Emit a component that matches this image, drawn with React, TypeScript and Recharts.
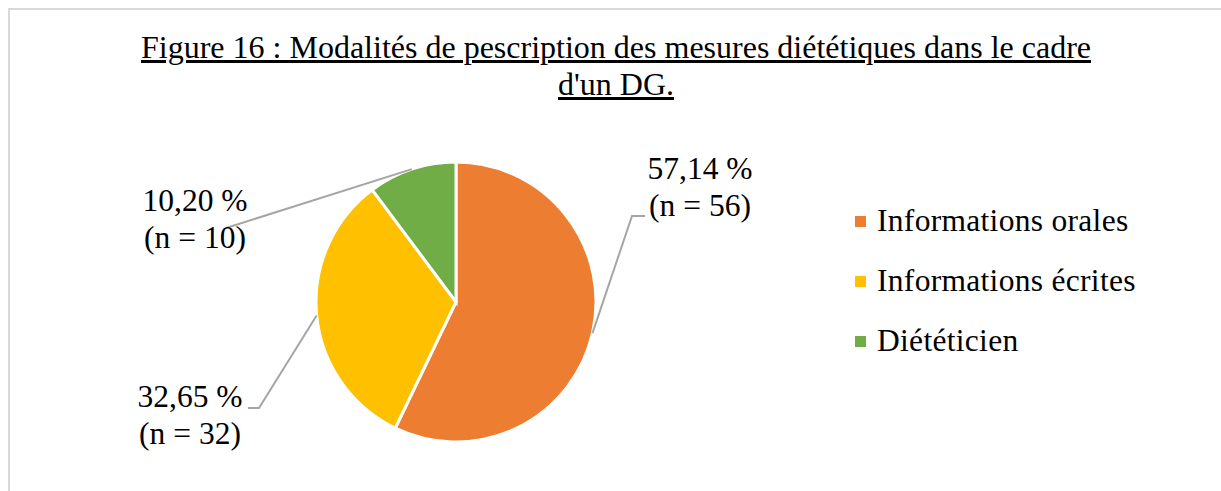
import React from "react";
import { PieChart, Pie, Cell, Legend } from "recharts";

const CATEGORIES = ["Informations orales", "Informations écrites", "Diététicien"];
const COUNTS = [56, 32, 10];
const COLORS = ["#ED7D31", "#FFC000", "#70AD47"];
const TITLE_LINES = [
  "Figure 16 : Modalités de pescription des mesures diététiques dans le cadre",
  "d'un DG.",
];

const TOTAL = COUNTS.reduce((a, b) => a + b, 0);
const FONT = '"Liberation Serif", "Times New Roman", serif';

// leader line points and label anchor, as offsets from the pie centre
const LABEL_LAYOUT = [
  { line: [[176, -86], [189, -86]], textX: 244, textY: -123 },
  { line: [[-197, 106], [-208, 106]], textX: -266, textY: 105 },
  { line: [[-230, -74]], textX: -261, textY: -91 },
];

const data = CATEGORIES.map((name, i) => ({ name, value: COUNTS[i] }));

const renderLabel = (props: any) => {
  const { cx, cy, midAngle, outerRadius, index } = props;
  const value = props.value ?? COUNTS[index];
  const rad = (-midAngle * Math.PI) / 180;
  const sx = cx + outerRadius * Math.cos(rad);
  const sy = cy + outerRadius * Math.sin(rad);
  const layout = LABEL_LAYOUT[index];
  const pts = [[sx, sy], ...layout.line.map(([dx, dy]) => [cx + dx, cy + dy])];
  const pct = ((value / TOTAL) * 100).toFixed(2).replace(".", ",");
  const tx = cx + layout.textX;
  return (
    <g key={`lbl-${index}`}>
      <polyline
        points={pts.map((p) => p.join(",")).join(" ")}
        fill="none"
        stroke="#A5A5A5"
        strokeWidth={2}
      />
      <text
        x={tx}
        y={cy + layout.textY}
        textAnchor="middle"
        fontFamily={FONT}
        fontSize={31.5}
        fill="#000"
      >
        <tspan x={tx}>{pct} %</tspan>
        <tspan x={tx} dy={37}>
          (n = {value})
        </tspan>
      </text>
    </g>
  );
};

const renderLegend = () => (
  <div style={{ fontFamily: FONT, fontSize: 31.5, letterSpacing: "0.3px", color: "#000" }}>
    {CATEGORIES.map((c, i) => (
      <div
        key={c}
        style={{
          display: "flex",
          alignItems: "center",
          height: 60,
          lineHeight: "60px",
          whiteSpace: "nowrap",
        }}
      >
        <span
          style={{
            display: "inline-block",
            width: 11,
            height: 11,
            background: COLORS[i],
            marginRight: 11,
          }}
        />
        {c}
      </div>
    ))}
  </div>
);

export default function App() {
  return (
    <div
      style={{
        position: "absolute",
        left: 0,
        top: 0,
        width: 1221,
        height: 491,
        overflow: "hidden",
        background: "#fff",
      }}
    >
      {/* chart frame, runs off the right and bottom edges */}
      <div
        style={{
          position: "absolute",
          left: 8,
          top: 8,
          width: 1400,
          height: 600,
          border: "2.5px solid #D9D9D9",
        }}
      />
      <PieChart width={1221} height={491} margin={{ top: 0, right: 0, bottom: 0, left: 0 }}>
        <Pie
          data={data}
          dataKey="value"
          nameKey="name"
          cx={456}
          cy={302}
          outerRadius={140}
          startAngle={90}
          endAngle={-270}
          stroke="#fff"
          strokeWidth={3}
          label={renderLabel}
          labelLine={false}
          isAnimationActive={false}
        >
          {data.map((d, i) => (
            <Cell key={d.name} fill={COLORS[i]} />
          ))}
        </Pie>
        <Legend
          layout="vertical"
          content={renderLegend}
          wrapperStyle={{ left: 855, top: 191, width: 360 }}
        />
      </PieChart>
      <div
        style={{
          position: "absolute",
          left: 116,
          top: 29,
          width: 1000,
          textAlign: "center",
          fontFamily: FONT,
          fontSize: 32,
          lineHeight: "37px",
          textDecoration: "underline",
          whiteSpace: "nowrap",
          color: "#000",
        }}
      >
        {TITLE_LINES.map((t) => (
          <div key={t}>{t}</div>
        ))}
      </div>
    </div>
  );
}
